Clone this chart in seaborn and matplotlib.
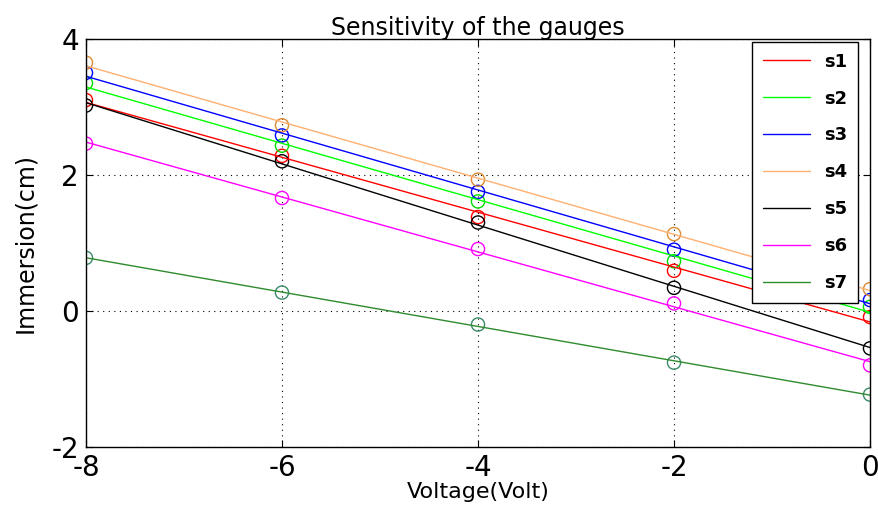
import numpy as np
import pandas as pd
import matplotlib
matplotlib.use("Agg")
import matplotlib.pyplot as plt
import seaborn as sns

voltage = [-8, -6, -4, -2, 0]
s1 = [3.10, 2.28, 1.38, 0.59, -0.09]
s2 = [3.35, 2.43, 1.61, 0.73, 0.06]
s3 = [3.50, 2.58, 1.75, 0.90, 0.16]
s4 = [3.65, 2.73, 1.93, 1.13, 0.32]
s5 = [3.02, 2.20, 1.30, 0.34, -0.55]
s6 = [2.46, 1.66, 0.91, 0.11, -0.80]
s7 = [0.78, 0.27, -0.20, -0.76, -1.23]
names = ["s1", "s2", "s3", "s4", "s5", "s6", "s7"]
series = [s1, s2, s3, s4, s5, s6, s7]
line_colors = ["#ff0000", "#00ff00", "#0000ff", "#ffb070", "#000000", "#ff00ff", "#2e8b2e"]
marker_colors = ["#ff0000", "#00dd00", "#0000ff", "#dd8a30", "#000000", "#ff00ff", "#3a8a68"]

sns.set_style("ticks")
plt.rcParams['font.family'] = ['DejaVu Sans']
plt.rcParams['axes.unicode_minus'] = False
for k in ['text.color', 'axes.labelcolor', 'xtick.color', 'ytick.color']:
    plt.rcParams[k] = 'black'

fig = plt.figure(figsize=(8.79, 5.14), dpi=100)
ax = fig.add_axes([0.0978, 0.1304, 0.892, 0.794])

for name, vals, lc, mc in zip(names, series, line_colors, marker_colors):
    df = pd.DataFrame({"x": voltage, "y": vals})
    sns.regplot(data=df, x="x", y="y", ax=ax, ci=None, scatter=False, truncate=True,
                line_kws=dict(color=lc, lw=1.0), label=name)
    sns.scatterplot(data=df, x="x", y="y", ax=ax, marker="o", s=90,
                    facecolors="none", edgecolor=mc, linewidth=1.0, legend=False)

ax.set_xlim(-8, 0)
ax.set_ylim(-2, 4)
ax.set_xticks([-8, -6, -4, -2, 0])
ax.set_yticks([-2, 0, 2, 4])
ax.grid(True, color="black", linestyle=(0, (1, 4)), linewidth=0.8)
ax.tick_params(direction="in", labelsize=20, length=5, top=True, right=True,
               labeltop=False, labelright=False)
ax.tick_params(axis="x", pad=5)
ax.tick_params(axis="y", pad=5)
for sp in ax.spines.values():
    sp.set_visible(True)
    sp.set_color("black")
    sp.set_linewidth(1.0)
ax.set_xlabel("Voltage(Volt)", fontsize=16, labelpad=0)
ax.set_ylabel("Immersion(cm)", fontsize=17, labelpad=10)
ax.set_title("Sensitivity of the gauges", fontsize=17, pad=3)

leg = ax.legend(loc="upper right", bbox_to_anchor=(0.985, 0.993), borderaxespad=0,
                frameon=True, fancybox=False, edgecolor="black", framealpha=1,
                handlelength=2.6, labelspacing=1.05, borderpad=0.6,
                prop={"weight": "bold", "size": 13})
leg.get_frame().set_linewidth(1.0)

fig.savefig("out.png", dpi=100)
